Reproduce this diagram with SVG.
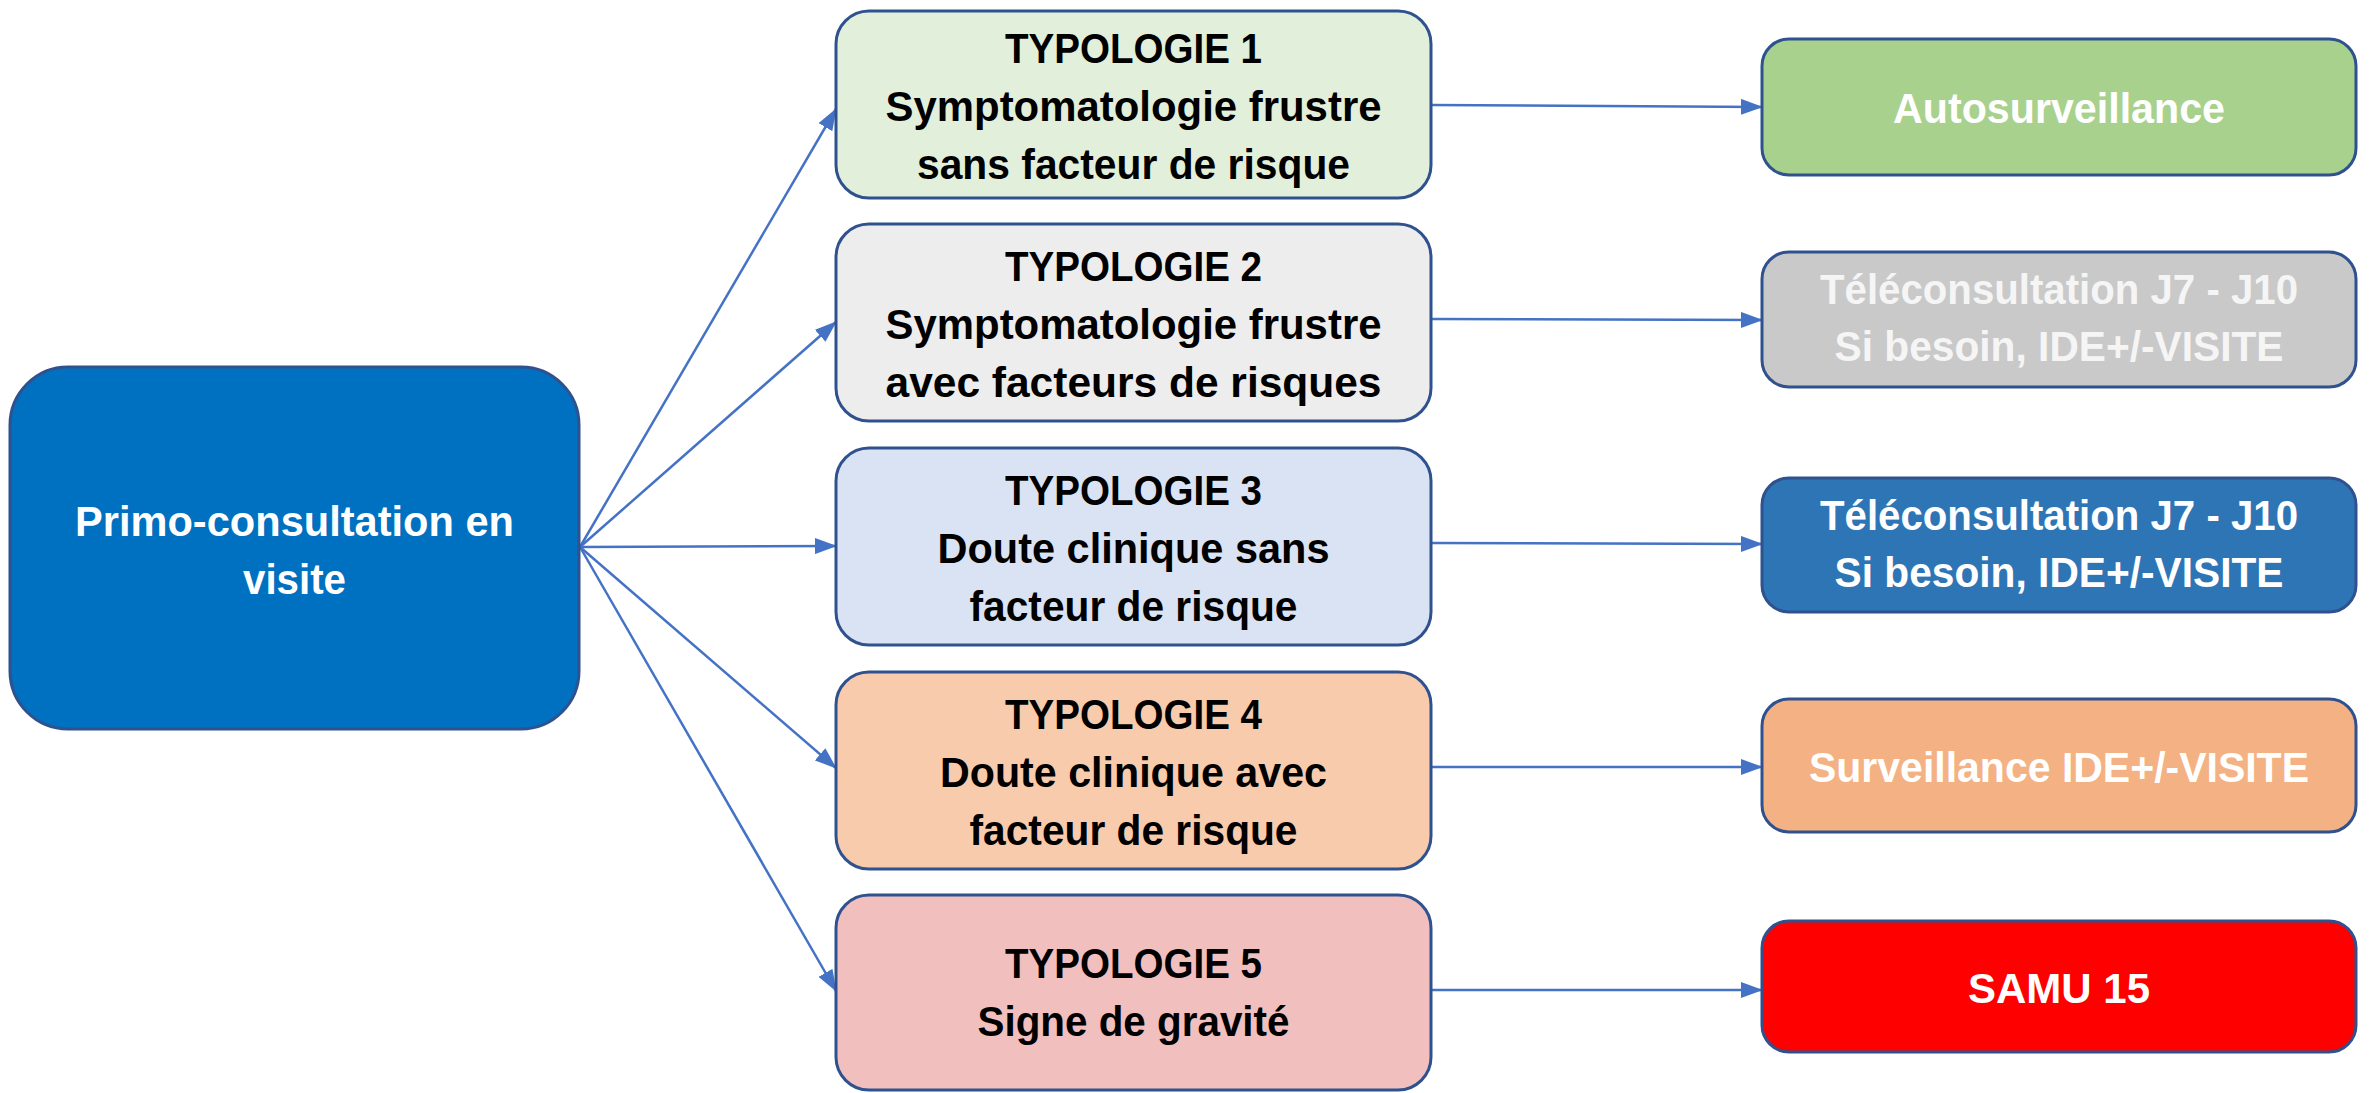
<svg xmlns="http://www.w3.org/2000/svg" width="2371" height="1093" viewBox="0 0 2371 1093">
<defs>
<marker id="arr" markerUnits="userSpaceOnUse" markerWidth="22" markerHeight="16" refX="21" refY="8" orient="auto">
<path d="M0,0 L22,8 L0,16 z" fill="#4472C4"/>
</marker>
<style>
.box{stroke:#2F528F;stroke-width:3}
.t{font-family:"Liberation Sans",Arial,sans-serif;font-weight:bold;font-size:43px;text-anchor:middle}
.dk{fill:#000000}
.wt{fill:#FFFFFF}
.c{stroke:#4472C4;stroke-width:2.5;fill:none;marker-end:url(#arr)}
</style>
</defs>
<rect width="2371" height="1093" fill="#FFFFFF"/>

<g id="connectors">
<line class="c" x1="580" y1="547" x2="836" y2="109"/>
<line class="c" x1="580" y1="547" x2="836" y2="322"/>
<line class="c" x1="580" y1="547" x2="836" y2="546"/>
<line class="c" x1="580" y1="547" x2="836" y2="768"/>
<line class="c" x1="580" y1="547" x2="836" y2="991"/>
<line class="c" x1="1431" y1="105" x2="1762" y2="107"/>
<line class="c" x1="1431" y1="319" x2="1762" y2="320"/>
<line class="c" x1="1431" y1="543" x2="1762" y2="544"/>
<line class="c" x1="1431" y1="767" x2="1762" y2="767"/>
<line class="c" x1="1431" y1="990" x2="1762" y2="990"/>
</g>

<g id="primo">
<rect class="box" x="10" y="367" width="569" height="362" rx="58" fill="#0070C0"/>
<text class="t wt" x="294.5" y="536" textLength="439" lengthAdjust="spacingAndGlyphs">Primo-consultation en</text>
<text class="t wt" x="294.5" y="594" textLength="103" lengthAdjust="spacingAndGlyphs">visite</text>
</g>

<g id="typo1">
<rect class="box" x="836" y="11" width="595" height="187" rx="33" fill="#E2EFDA"/>
<text class="t dk" x="1133.5" y="63" textLength="257" lengthAdjust="spacingAndGlyphs">TYPOLOGIE 1</text>
<text class="t dk" x="1133.5" y="121" textLength="496" lengthAdjust="spacingAndGlyphs">Symptomatologie frustre</text>
<text class="t dk" x="1133.5" y="179" textLength="433" lengthAdjust="spacingAndGlyphs">sans facteur de risque</text>
</g>

<g id="typo2">
<rect class="box" x="836" y="224" width="595" height="197" rx="33" fill="#EDEDED"/>
<text class="t dk" x="1133.5" y="281" textLength="257" lengthAdjust="spacingAndGlyphs">TYPOLOGIE 2</text>
<text class="t dk" x="1133.5" y="339" textLength="496" lengthAdjust="spacingAndGlyphs">Symptomatologie frustre</text>
<text class="t dk" x="1133.5" y="397" textLength="496" lengthAdjust="spacingAndGlyphs">avec facteurs de risques</text>
</g>

<g id="typo3">
<rect class="box" x="836" y="448" width="595" height="197" rx="33" fill="#DAE3F3"/>
<text class="t dk" x="1133.5" y="505" textLength="257" lengthAdjust="spacingAndGlyphs">TYPOLOGIE 3</text>
<text class="t dk" x="1133.5" y="563" textLength="392" lengthAdjust="spacingAndGlyphs">Doute clinique sans</text>
<text class="t dk" x="1133.5" y="621" textLength="328" lengthAdjust="spacingAndGlyphs">facteur de risque</text>
</g>

<g id="typo4">
<rect class="box" x="836" y="672" width="595" height="197" rx="33" fill="#F8CBAD"/>
<text class="t dk" x="1133.5" y="729" textLength="257" lengthAdjust="spacingAndGlyphs">TYPOLOGIE 4</text>
<text class="t dk" x="1133.5" y="787" textLength="387" lengthAdjust="spacingAndGlyphs">Doute clinique avec</text>
<text class="t dk" x="1133.5" y="845" textLength="328" lengthAdjust="spacingAndGlyphs">facteur de risque</text>
</g>

<g id="typo5">
<rect class="box" x="836" y="895" width="595" height="195" rx="33" fill="#F2BFBF"/>
<text class="t dk" x="1133.5" y="978" textLength="257" lengthAdjust="spacingAndGlyphs">TYPOLOGIE 5</text>
<text class="t dk" x="1133.5" y="1036" textLength="312" lengthAdjust="spacingAndGlyphs">Signe de gravité</text>
</g>

<g id="res1">
<rect class="box" x="1762" y="39" width="594" height="136" rx="27" fill="#A9D18E"/>
<text class="t wt" x="2059" y="123" textLength="332" lengthAdjust="spacingAndGlyphs">Autosurveillance</text>
</g>

<g id="res2">
<rect class="box" x="1762" y="252" width="594" height="135" rx="27" fill="#C9C9C9"/>
<text class="t" fill="#F5F5F5" x="2059" y="304" textLength="478" lengthAdjust="spacingAndGlyphs">Téléconsultation J7 - J10</text>
<text class="t" fill="#F5F5F5" x="2059" y="361" textLength="449" lengthAdjust="spacingAndGlyphs">Si besoin, IDE+/-VISITE</text>
</g>

<g id="res3">
<rect class="box" x="1762" y="478" width="594" height="134" rx="27" fill="#2E75B6"/>
<text class="t wt" x="2059" y="530" textLength="478" lengthAdjust="spacingAndGlyphs">Téléconsultation J7 - J10</text>
<text class="t wt" x="2059" y="587" textLength="449" lengthAdjust="spacingAndGlyphs">Si besoin, IDE+/-VISITE</text>
</g>

<g id="res4">
<rect class="box" x="1762" y="699" width="594" height="133" rx="27" fill="#F4B183"/>
<text class="t wt" x="2059" y="782" textLength="500" lengthAdjust="spacingAndGlyphs">Surveillance IDE+/-VISITE</text>
</g>

<g id="res5">
<rect class="box" x="1762" y="921" width="594" height="131" rx="27" fill="#FF0000"/>
<text class="t wt" x="2059" y="1003" textLength="182" lengthAdjust="spacingAndGlyphs">SAMU 15</text>
</g>
</svg>
